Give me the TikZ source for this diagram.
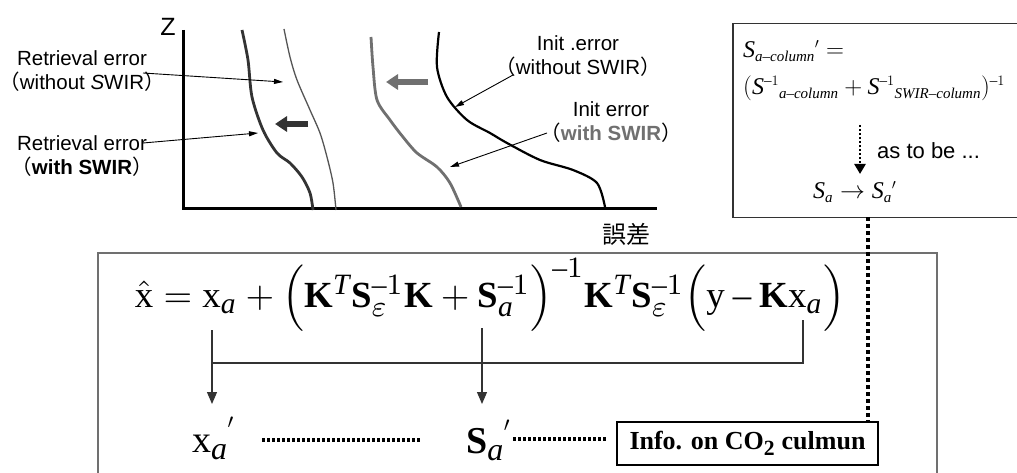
\documentclass[tikz,border=0pt]{standalone}
\usepackage{fontspec}
\setmainfont{Liberation Serif}
\newfontfamily\arial{Liberation Sans}
\newfontfamily\cjk{Noto Sans CJK JP}
\usepackage[italic]{mathastext}
\DeclareMathSizes{24}{24}{15}{11}
\DeclareMathSizes{38}{38}{32}{20}
\DeclareMathSizes{10}{10}{8}{6}
\usetikzlibrary{arrows.meta}
\definecolor{dgray}{HTML}{333333}
\definecolor{mgray}{HTML}{707070}
\definecolor{lgray}{HTML}{555555}
\begin{document}
\begin{tikzpicture}[x=1pt,y=-1pt,
  lbl/.style={font=\arial\fontsize{20.5}{24}\selectfont, align=center, inner sep=0pt},
  larrow/.style={-{Triangle[length=9pt,width=5pt]}, line width=0.9pt},
  blockarrow/.style={line width=6pt,-{Triangle[length=12pt,width=15pt]}},
  conn/.style={line width=1.2pt, draw=dgray},
  connarrow/.style={conn,-{Triangle[length=12pt,width=10pt]}},
  smalldots/.style={line width=3.5pt, dash pattern=on 3pt off 2pt},
  bigdots/.style={line width=4pt, dash pattern=on 4pt off 3pt},
  mathtxt/.style={inner sep=0pt, font=\fontsize{24}{28}\selectfont},
  bigmath/.style={inner sep=0pt, font=\fontsize{38}{40}\selectfont, anchor=base west}
]
\useasboundingbox (0,0) rectangle (1017,473);
\fill[white] (0,0) rectangle (1017,473);

% ---------- plot ----------
\draw[line width=3pt, line join=miter] (183,30) -- (183,209) -- (657,209);
\node[font=\arial\fontsize{25}{27}\selectfont, inner sep=0pt] (zlab) at (168,27) {Z};
\node[font=\cjk\fontsize{24}{26}\selectfont, inner sep=0pt] (err) at (626,234) {誤差};

% curves
\draw[line width=2.8pt, dgray] plot[smooth] coordinates {(242,30) (248,60) (252,97) (263,130) (277,153) (290,163) (302,177) (310,193) (313,210)};
\draw[line width=1.3pt, lgray] plot[smooth] coordinates {(284,29) (290,57) (297,80) (310,110) (320,133) (327,157) (333,183) (336,210)};
\draw[line width=2.8pt, mgray] plot[smooth] coordinates {(371,37) (373,67) (377,100) (390,120) (403,137) (417,153) (437,167) (450,183) (461,207)};
\draw[line width=2.2pt, black] plot[smooth] coordinates {(439,32) (437,67) (447,97) (467,120) (490,133) (507,143) (540,160) (573,170) (597,183) (605,207)};

% block arrows
\coordinate (gA) at (428,82); \coordinate (gB) at (386,82);
\draw[blockarrow, mgray] (gA) -- (gB);
\coordinate (kA) at (308,124); \coordinate (kB) at (275,124);
\draw[blockarrow, dgray] (kA) -- (kB);

% labels
\node[lbl] (rwo) at (82,71) {Retrieval error\\{\cjk （}without \textit{S}WIR{\cjk ）}};
\node[lbl] (rw) at (82,156) {Retrieval error\\{\cjk （}\textbf{with SWIR}{\cjk ）}};
\node[lbl] (iwo) at (578,56) {Init .error\\{\cjk （}without SWIR{\cjk ）}};
\node[lbl] (iw) at (611,122) {Init error\\{\cjk （}\textcolor{mgray}{\textbf{with SWIR}}{\cjk ）}};

\coordinate (rwoS) at (143,73); \coordinate (rwoT) at (283,82);
\coordinate (rwS) at (143,143); \coordinate (rwT) at (258,133);
\coordinate (iwoS) at (513,75); \coordinate (iwoT) at (455,107);
\coordinate (iwS) at (547,133); \coordinate (iwT) at (450,167);
\draw[larrow] (rwoS) -- (rwoT);
\draw[larrow] (rwS) -- (rwT);
\draw[larrow] (iwoS) -- (iwoT);
\draw[larrow] (iwS) -- (iwT);

% ---------- top-right box ----------
\node[draw=dgray, line width=1.5pt, minimum width=300pt, minimum height=194pt, anchor=north west, inner sep=0pt] (sbox) at (732,23) {};
\node[mathtxt, anchor=base west] (eq1) at (743,58) {$S_{a{-}column}{}^{\prime}=$};
\node[mathtxt, anchor=base west] (eq2) at (743,95) {$(S^{-1}{}_{a{-}column}+S^{-1}{}_{SWIR{-}column})^{-1}$};
\coordinate (dA) at (860,125); \coordinate (dB) at (860,174);
\draw[line width=2.5pt, dash pattern=on 2.5pt off 1.5pt, -{Triangle[length=10pt,width=11pt]}] (dA) -- (dB);
\node[font=\arial\fontsize{22}{24}\selectfont, anchor=west, inner sep=0pt] (astobe) at (877,151) {as to be ...};
\node[mathtxt, anchor=base west] (sasa) at (813,199) {$S_a\rightarrow S_a{}^{\prime}$};

% ---------- bottom box ----------
\node[draw=mgray, line width=1.5pt, minimum width=839pt, minimum height=240pt, anchor=north west, inner sep=0pt] (bbox) at (97,252) {};
\node[inner sep=0pt] (eq) at (490,295) {\resizebox{710pt}{!}{$\hat{\mathrm{x}} = \mathrm{x}_a + \Bigl(\mathbf{K}^T\mathbf{S}_\varepsilon^{-1}\mathbf{K} + \mathbf{S}_a^{-1}\Bigr)^{-1}\mathbf{K}^T\mathbf{S}_\varepsilon^{-1}\Bigl(\mathrm{y}-\mathbf{K}\mathrm{x}_a\Bigr)$}};

\coordinate (xaB) at (212,330); \coordinate (xaT) at (212,404);
\coordinate (saB) at (482,328); \coordinate (saT) at (482,404);
\coordinate (kxB) at (803,320); \coordinate (hR) at (803,363); \coordinate (hL) at (212,363);
\draw[conn] (kxB) -- (hR) -- (hL);
\draw[connarrow] (xaB) -- (xaT);
\draw[connarrow] (saB) -- (saT);

\node[bigmath] (xap) at (192,452) {$\mathrm{x}_{\raisebox{-4pt}{$\scriptstyle a$}}{}^{\raisebox{14pt}{$\scriptscriptstyle\prime$}}$};
\node[bigmath] (sap) at (466,453) {$\mathbf{S}_{\raisebox{-4pt}{$\scriptstyle a$}}{}^{\raisebox{12pt}{$\scriptscriptstyle\prime$}}$};
\node[draw=black, line width=1.2pt, minimum width=261pt, minimum height=43pt, inner sep=0pt, font=\bfseries\fontsize{26}{28}\selectfont] (info) at (747.5,443.5) {Info. on CO\textsubscript{2} culmun};

\coordinate (d1a) at (262,440); \coordinate (d1b) at (421,440);
\coordinate (d2a) at (513,439); \coordinate (d2b) at (607,439);
\draw[smalldots] (d1a) -- (d1b);
\draw[smalldots] (d2a) -- (d2b);

\coordinate (vtop) at (868,217);
\draw[bigdots] (vtop) -- (vtop |- info.north);
\end{tikzpicture}
\end{document}
